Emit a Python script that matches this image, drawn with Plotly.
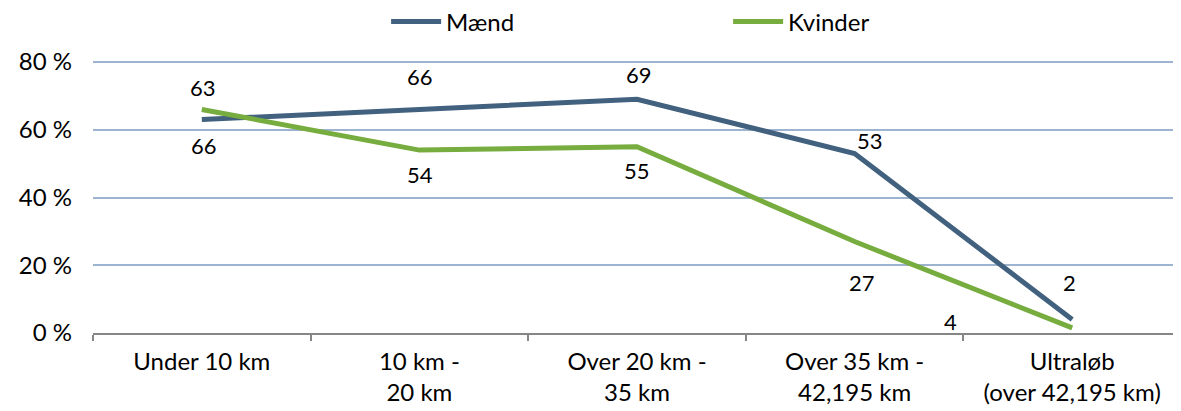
import plotly.graph_objects as go

categories = ["Under 10 km", "10 km -<br>20 km", "Over 20 km -<br>35 km",
              "Over 35 km -<br>42,195 km", "Ultraløb<br>(over 42,195 km)"]
maend_values = [63, 66, 69, 53, 4]
kvinder_values = [66, 54, 55, 27, 1.5]
maend_labels = ["63", "66", "69", "53", "2"]
kvinder_labels = ["66", "54", "55", "27", "4"]
y_ticks = [0, 20, 40, 60, 80]
y_tick_text = ["0 %", "20 %", "40 %", "60 %", "80 %"]

maend_color = "#41617F"
kvinder_color = "#77AC3F"
FONT = "Lato"

fig = go.Figure()
fig.add_trace(go.Scatter(x=categories, y=maend_values, mode="lines", name="Mænd",
                         line=dict(color=maend_color, width=5)))
fig.add_trace(go.Scatter(x=categories, y=kvinder_values, mode="lines", name="Kvinder",
                         line=dict(color=kvinder_color, width=5)))

# label offsets (pixels) as placed in the reference
m_off = [(1, 32), (1, 33), (2, 25), (15, 13), (-3, 37)]
k_off = [(2, -36), (1, -24), (0, -24), (7, -41), (-122, 6)]
for i, c in enumerate(categories):
    fig.add_annotation(x=c, y=maend_values[i], text=maend_labels[i], showarrow=False,
                       xshift=m_off[i][0], yshift=m_off[i][1],
                       font=dict(family=FONT, size=22, color="#000"))
    fig.add_annotation(x=c, y=kvinder_values[i], text=kvinder_labels[i], showarrow=False,
                       xshift=k_off[i][0], yshift=k_off[i][1],
                       font=dict(family=FONT, size=22, color="#000"))

fig.update_layout(
    width=1173, height=403,
    margin=dict(l=85, r=0, t=52, b=78, autoexpand=False),
    paper_bgcolor="white", plot_bgcolor="white",
    font=dict(family=FONT, size=24, color="#000"),
    showlegend=True,
    legend=dict(orientation="h", x=0.2694, xanchor="left", y=1.14, yanchor="middle",
                entrywidth=277, entrywidthmode="pixels",
                itemwidth=50, font=dict(family=FONT, size=24), traceorder="normal"),
    xaxis=dict(type="category", showgrid=False, showline=True, linecolor="#868686",
               linewidth=2, ticks="outside", tickson="boundaries", ticklen=6,
               tickcolor="#868686", tickwidth=2, range=[-0.5, 4.5], zeroline=False,
               automargin=False, ticklabelstandoff=6),
    yaxis=dict(range=[0, 80.6], tickvals=y_ticks, ticktext=y_tick_text, showgrid=True,
               gridcolor="#9DB4D0", gridwidth=2, zeroline=False, showline=False,
               ticks="", ticklabelstandoff=20, automargin=False),
)

fig.write_html("out.html")
